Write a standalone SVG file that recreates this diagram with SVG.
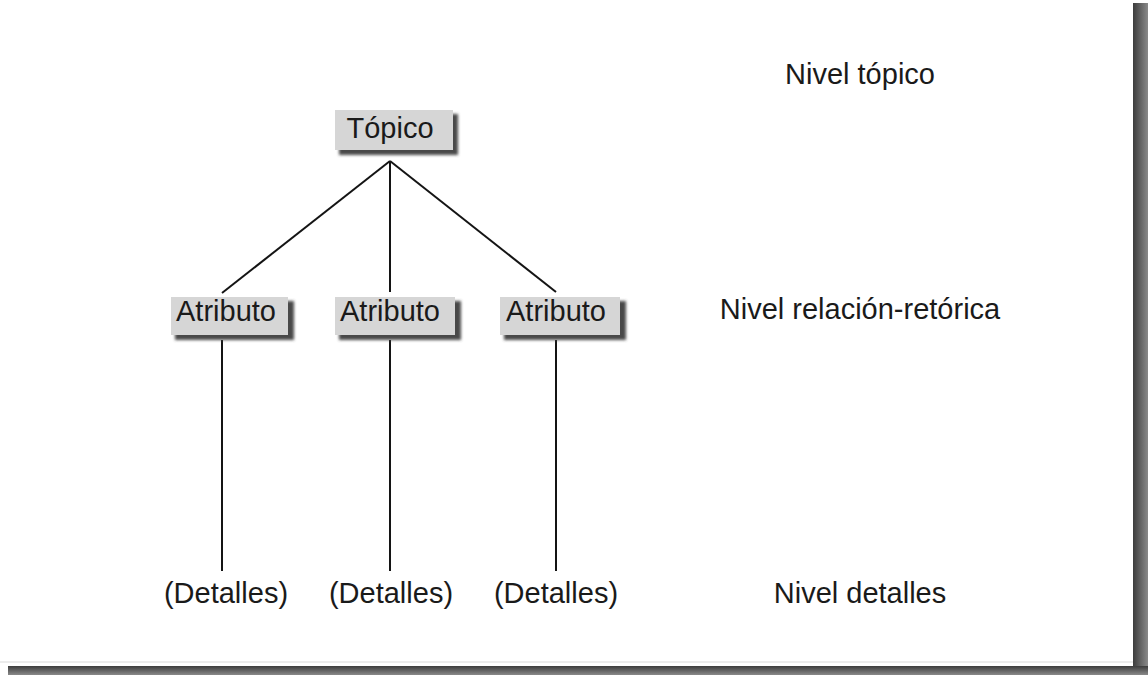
<svg xmlns="http://www.w3.org/2000/svg" width="1148" height="675" viewBox="0 0 1148 675">
<style>
  .lbl{font-family:"Liberation Sans",Arial,sans-serif;font-size:29px;fill:#1a1a1a;text-anchor:middle}
  .face{fill:#d6d6d6}
  .shd{fill:#4a4a4a;filter:url(#blur)}
  .conn{stroke:#141414;stroke-width:2;fill:none}
</style>
<defs>
  <filter id="blur" x="-10%" y="-30%" width="120%" height="160%">
    <feGaussianBlur stdDeviation="1.5"/>
  </filter>
  <linearGradient id="rshadow" x1="0" y1="0" x2="1" y2="0">
    <stop offset="0" stop-color="#3c3c3c"/>
    <stop offset="1" stop-color="#8a8a8a"/>
  </linearGradient>
  <linearGradient id="bshadow" x1="0" y1="0" x2="0" y2="1">
    <stop offset="0" stop-color="#3c3c3c"/>
    <stop offset="1" stop-color="#8a8a8a"/>
  </linearGradient>
</defs>
<rect width="1148" height="675" fill="#ffffff"/>
<g id="page-frame">
  <rect x="1133" y="3" width="15" height="672" fill="url(#rshadow)"/>
  <rect x="8" y="666" width="1140" height="9" fill="url(#bshadow)"/>
  <line x1="0" y1="662" x2="1133" y2="662" stroke="#ececec" stroke-width="2"/>
</g>
<g id="connectors">
  <line class="conn" x1="390" y1="161" x2="222" y2="293"/>
  <line class="conn" x1="390" y1="161" x2="390" y2="292"/>
  <line class="conn" x1="390" y1="161" x2="556" y2="292"/>
  <line class="conn" x1="222" y1="340" x2="222" y2="571"/>
  <line class="conn" x1="390" y1="340" x2="390" y2="571"/>
  <line class="conn" x1="556" y1="340" x2="556" y2="571"/>
</g>
<g id="node-topico">
  <rect class="shd" x="339" y="114" width="119" height="41"/>
  <rect class="face" x="335" y="110" width="118" height="40"/>
  <text class="lbl" x="390" y="138">Tópico</text>
</g>
<g id="node-atributo-1">
  <rect class="shd" x="175" y="301" width="119" height="39"/>
  <rect class="face" x="171" y="297" width="117" height="38"/>
  <text class="lbl" x="226" y="321">Atributo</text>
</g>
<g id="node-atributo-2">
  <rect class="shd" x="339" y="301" width="122" height="39"/>
  <rect class="face" x="335" y="297" width="120" height="38"/>
  <text class="lbl" x="390" y="321">Atributo</text>
</g>
<g id="node-atributo-3">
  <rect class="shd" x="504" y="301" width="122" height="39"/>
  <rect class="face" x="500" y="297" width="120" height="38"/>
  <text class="lbl" x="556" y="321">Atributo</text>
</g>
<g id="node-detalles-1"><text class="lbl" x="226" y="603">(Detalles)</text></g>
<g id="node-detalles-2"><text class="lbl" x="391" y="603">(Detalles)</text></g>
<g id="node-detalles-3"><text class="lbl" x="556" y="603">(Detalles)</text></g>
<g id="level-labels">
  <text class="lbl" x="860" y="84">Nivel tópico</text>
  <text class="lbl" x="860" y="319">Nivel relación-retórica</text>
  <text class="lbl" x="860" y="603">Nivel detalles</text>
</g>
</svg>
